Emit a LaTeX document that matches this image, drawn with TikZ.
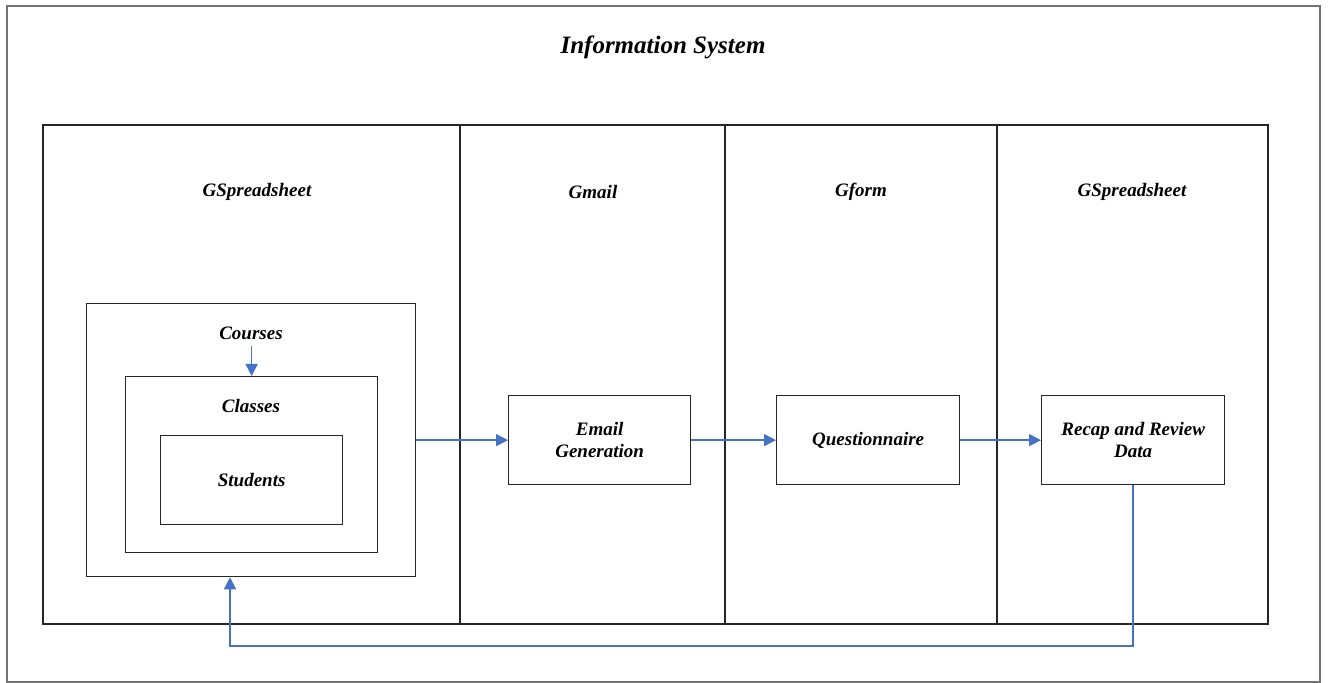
\documentclass[tikz,border=0pt]{standalone}
\usepackage{fontspec}
\setmainfont{Liberation Serif}
\usetikzlibrary{arrows.meta}
\definecolor{flowblue}{RGB}{68,114,196}
\begin{document}
\begin{tikzpicture}[x=0.5pt,y=-0.5pt,
  box/.style={draw=black!85,line width=0.65pt},
  lbl/.style={font=\fontsize{9.5}{11}\selectfont\bfseries\itshape,align=center},
  flow/.style={draw=flowblue,line width=0.75pt,-{Triangle[length=6pt,width=6pt]}}]
\useasboundingbox (0,0) rectangle (1328,683);
\draw[draw=black!55,line width=1pt] (7,6) rectangle (1320,682);
\node[font=\fontsize{12.5}{14}\selectfont\bfseries\itshape] (title) at (663,47) {Information System};
\draw[box] (43,125) rectangle (1268,624);
\draw[box] (460,125) -- (460,624);
\draw[box] (725,125) -- (725,624);
\draw[box] (997,125) -- (997,624);
\node[lbl] (h1) at (257,192) {GSpreadsheet};
\node[lbl] (h2) at (593,192) {Gmail};
\node[lbl] (h3) at (861,192) {Gform};
\node[lbl] (h4) at (1132,192) {GSpreadsheet};
\node[box,minimum width=329pt/2,minimum height=273pt/2,anchor=north west] (courses) at (86,303) {};
\node[box,minimum width=252pt/2,minimum height=176pt/2,anchor=north west] (classes) at (125,376) {};
\node[box,minimum width=182pt/2,minimum height=89pt/2,anchor=north west] (students) at (160,435) {};
\node[lbl] (tcourses) at (251,333) {Courses};
\node[lbl] (tclasses) at (251,406) {Classes};
\node[lbl] at (students.center) {Students};
\node[box,lbl,minimum width=182pt/2,minimum height=89pt/2,anchor=north west] (email) at (508,395) {Email\\Generation};
\node[box,lbl,minimum width=183pt/2,minimum height=89pt/2,anchor=north west] (quest) at (776,395) {Questionnaire};
\node[box,lbl,minimum width=183pt/2,minimum height=89pt/2,anchor=north west] (recap) at (1041,395) {Recap and Review\\Data};
\draw[flow] (classes.north |- tcourses.south) -- (classes.north);
\draw[flow] (courses.east |- email.west) -- (email.west);
\draw[flow] (email.east) -- (quest.west);
\draw[flow] (quest.east) -- (recap.west);
\coordinate (c1) at (1133,646);
\coordinate (c2) at (230,646);
\draw[flow] (recap.south -| c1) -- (c1) -- (c2) -- (courses.south -| c2);
\end{tikzpicture}
\end{document}
